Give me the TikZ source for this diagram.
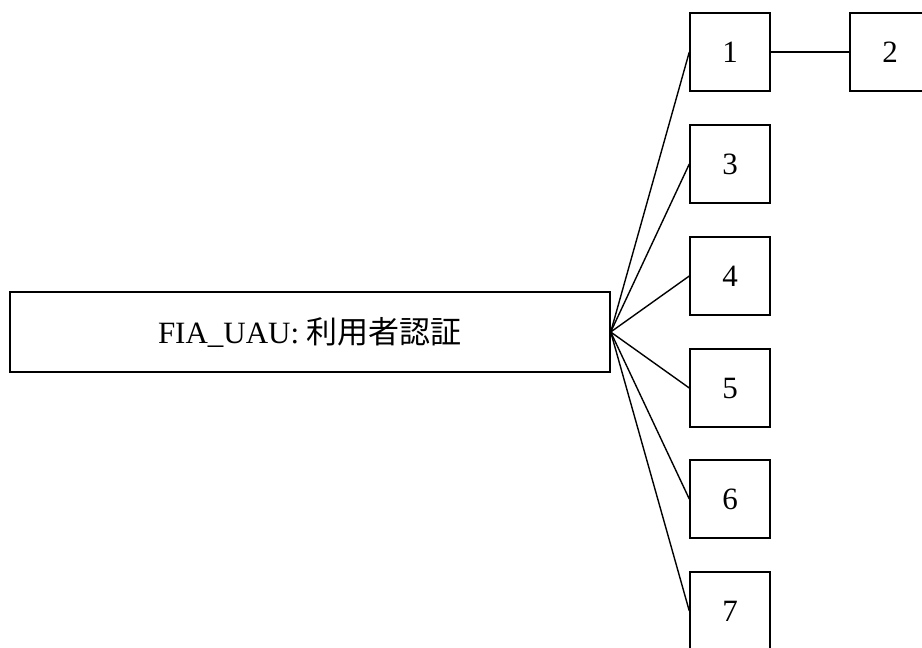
\documentclass[tikz,border=0pt]{standalone}
\usepackage{fontspec}
\setmainfont{Liberation Serif}
\newfontfamily\jpfont{Noto Sans CJK JP}
\usepackage{tikz}
\usetikzlibrary{positioning}

\tikzset{
    numbox/.style={draw, line width=1.4pt, minimum width=80pt, minimum height=78pt, inner sep=0pt},
    mainbox/.style={draw, line width=1.4pt, minimum width=600pt, minimum height=80pt, inner sep=0pt}
}

\begin{document}
\begin{tikzpicture}[x=1pt, y=-1pt, line width=1.4pt, font=\fontsize{31}{36}\selectfont]
    \useasboundingbox (0, 0) rectangle (922, 648);

    % Main component
    \node[mainbox] (main) at (310, 332) {FIA\_UAU: {\jpfont 利用者認証}};

    % Elements
    \node[numbox] (b1) at (730, 52) {1};
    \node[numbox] (b2) at (890, 52) {2};
    \node[numbox] (b3) at (730, 164) {3};
    \node[numbox] (b4) at (730, 276) {4};
    \node[numbox] (b5) at (730, 388) {5};
    \node[numbox] (b6) at (730, 499) {6};
    \node[numbox] (b7) at (730, 611) {7};

    % Connections
    \foreach \n in {1, 3, 4, 5, 6, 7}
        \draw (main.east) -- (b\n.west);
    \draw (b1.east) -- (b2.west);
\end{tikzpicture}
\end{document}
